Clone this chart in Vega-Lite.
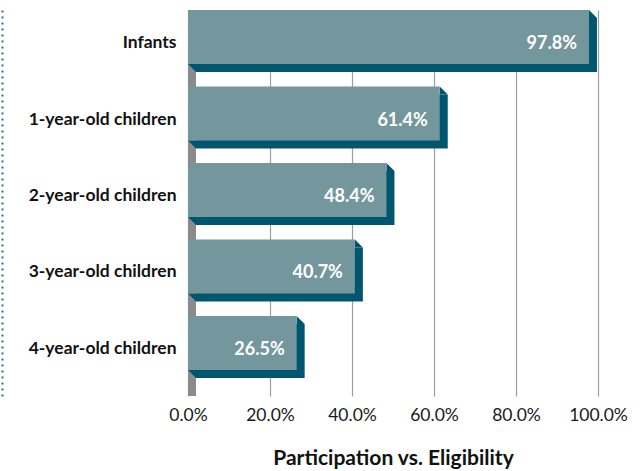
{
  "$schema": "https://vega.github.io/schema/vega-lite/v6.json",
  "autosize": {"type": "none"},
  "padding": {"left": 188, "top": 10, "right": 44, "bottom": 75},
  "width": 410,
  "height": 386,
  "background": "white",
  "config": {
    "view": {"stroke": null},
    "font": "Lato"
  },
  "data": {
    "values": [
      {"group": "Infants", "share": 0.978},
      {"group": "1-year-old children", "share": 0.614},
      {"group": "2-year-old children", "share": 0.484},
      {"group": "3-year-old children", "share": 0.407},
      {"group": "4-year-old children", "share": 0.265}
    ]
  },
  "encoding": {
    "y": {
      "field": "group",
      "type": "nominal",
      "sort": null,
      "scale": {"paddingInner": 0, "paddingOuter": 0.0229}
    }
  },
  "layer": [
    {
      "mark": {"type": "rule", "color": "#8b8b8d", "strokeWidth": 8, "xOffset": 4},
      "encoding": {
        "x": {
          "datum": 0,
          "type": "quantitative",
          "scale": {"domain": [0, 1]},
          "axis": {
            "values": [0, 0.2, 0.4, 0.6, 0.8, 1],
            "format": ".1%",
            "domain": false,
            "ticks": false,
            "grid": true,
            "gridColor": "#9d9d9d",
            "gridWidth": 1.2,
            "labelFlush": false,
            "labelOverlap": false,
            "labelFontSize": 17.5,
            "labelColor": "#1a1a1a",
            "labelPadding": 10,
            "title": "Participation vs. Eligibility",
            "titleFontSize": 21,
            "titleFontWeight": "bold",
            "titleColor": "#111111",
            "titlePadding": 24
          }
        },
        "y": null
      }
    },
    {
      "mark": {
        "type": "bar",
        "color": "#00566e",
        "height": 54,
        "xOffset": 8,
        "x2Offset": 8,
        "yOffset": -5
      },
      "encoding": {
        "x": {"field": "share", "type": "quantitative"},
        "y": {
          "field": "group",
          "type": "nominal",
          "sort": null,
          "axis": {
            "orient": "left",
            "offset": 186,
            "labels": false,
            "ticks": false,
            "title": null,
            "domain": true,
            "domainColor": "#2f6e86",
            "domainWidth": 2,
            "domainDash": [2, 4]
          }
        }
      }
    },
    {
      "mark": {
        "type": "point",
        "filled": true,
        "shape": "M-1,-1L1,1L-1,1Z",
        "size": 64,
        "color": "#00566e",
        "opacity": 1,
        "strokeWidth": 0,
        "xOffset": 4,
        "yOffset": -36
      },
      "encoding": {
        "x": {"field": "share", "type": "quantitative"},
        "y": {"field": "group", "type": "nominal", "sort": null, "axis": null}
      }
    },
    {
      "mark": {
        "type": "point",
        "filled": true,
        "shape": "M-1,-1L1,-1L1,1Z",
        "size": 64,
        "color": "#00566e",
        "opacity": 1,
        "strokeWidth": 0,
        "xOffset": 4,
        "yOffset": 18
      },
      "encoding": {
        "x": {"datum": 0, "type": "quantitative"},
        "y": {"field": "group", "type": "nominal", "sort": null, "axis": null}
      }
    },
    {
      "mark": {"type": "bar", "color": "#74979d", "height": 54, "yOffset": -13},
      "encoding": {
        "x": {"field": "share", "type": "quantitative"},
        "y": {
          "field": "group",
          "type": "nominal",
          "sort": null,
          "axis": {
            "orient": "left",
            "title": null,
            "domain": false,
            "ticks": false,
            "labelFontSize": 17.5,
            "labelFontWeight": "bold",
            "labelColor": "#111111",
            "labelPadding": 12,
            "labelOffset": -7,
            "labelLimit": 200
          }
        }
      }
    },
    {
      "mark": {
        "type": "text",
        "align": "right",
        "baseline": "middle",
        "dx": -12,
        "dy": -6,
        "fontSize": 18,
        "fontWeight": "bold",
        "color": "white"
      },
      "encoding": {
        "x": {"field": "share", "type": "quantitative"},
        "y": {"field": "group", "type": "nominal", "sort": null, "axis": null},
        "text": {"field": "share", "type": "quantitative", "format": ".1%"}
      }
    }
  ],
  "resolve": {"axis": {"y": "independent"}}
}
